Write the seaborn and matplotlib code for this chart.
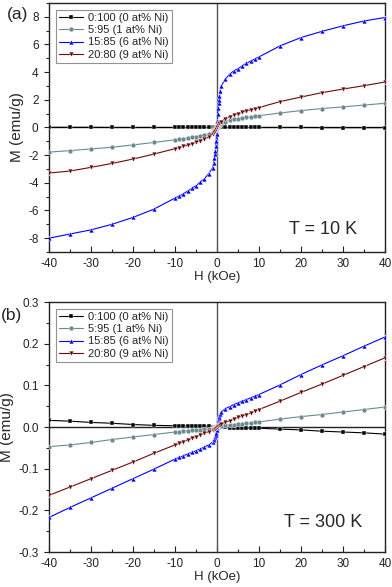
import numpy as np
import pandas as pd
import matplotlib
matplotlib.use("Agg")
import matplotlib.pyplot as plt
from matplotlib.ticker import MultipleLocator, FormatStrFormatter
import seaborn as sns

H = [-40, -35, -30, -25, -20, -15, -10, -9, -8, -7, -6, -5, -4, -3, -2, -1,
     -0.8, -0.6, -0.5, -0.4, -0.3, -0.2, -0.1, 0, 0.1, 0.2, 0.3, 0.4, 0.5, 0.6, 0.8,
     1, 2, 3, 4, 5, 6, 7, 8, 9, 10, 15, 20, 25, 30, 35, 40]

series = ["0:100 (0 at% Ni)", "5:95 (1 at% Ni)", "15:85 (6 at% Ni)", "20:80 (9 at% Ni)"]

# T = 10 K
m10_s0 = [0.01, 0.01, 0.01, 0.0, 0.0, 0.0, 0.0, 0.0, 0.0, 0.0, 0.0, 0.0, 0.0, 0.0, 0.0, 0.0,
          0.0, 0.0, 0.0, 0.0, 0.0, 0.0, 0.0, 0.0, 0.0, 0.0, 0.0, 0.0, 0.0, 0.0, 0.0,
          0.0, 0.0, 0.0, 0.0, 0.0, 0.0, 0.0, 0.0, 0.0, 0.0, 0.0, 0.0, -0.01, -0.01, -0.01, -0.01]
m10_s1 = [-1.78, -1.67, -1.55, -1.43, -1.26, -1.08, -0.89, -0.84, -0.80, -0.76, -0.71, -0.66, -0.60, -0.53, -0.44, -0.30,
          -0.25, -0.20, -0.17, -0.14, -0.11, -0.07, -0.04, 0.0, 0.04, 0.07, 0.10, 0.13, 0.16, 0.19, 0.24,
          0.29, 0.42, 0.51, 0.58, 0.64, 0.69, 0.73, 0.77, 0.81, 0.85, 1.05, 1.22, 1.37, 1.49, 1.62, 1.75]
m10_s2 = [-8.0, -7.7, -7.4, -7.0, -6.5, -5.9, -5.1, -4.95, -4.8, -4.6, -4.4, -4.2, -3.95, -3.7, -3.35, -2.9,
          -2.6, -2.2, -1.95, -1.7, -1.35, -0.95, -0.5, 0.0, 0.5, 1.0, 1.4, 1.75, 2.0, 2.25, 2.65,
          3.0, 3.5, 3.85, 4.1, 4.25, 4.45, 4.65, 4.8, 4.95, 5.1, 5.9, 6.5, 6.95, 7.35, 7.7, 7.95]
m10_s3 = [-3.29, -3.15, -2.88, -2.60, -2.28, -1.92, -1.53, -1.45, -1.36, -1.27, -1.17, -1.07, -0.96, -0.84, -0.68, -0.45,
          -0.38, -0.31, -0.27, -0.23, -0.18, -0.12, -0.06, 0.0, 0.06, 0.12, 0.17, 0.22, 0.26, 0.30, 0.37,
          0.43, 0.63, 0.78, 0.90, 1.00, 1.10, 1.19, 1.28, 1.36, 1.44, 1.87, 2.20, 2.52, 2.78, 3.02, 3.29]

# T = 300 K
m300_s0 = [0.016, 0.014, 0.011, 0.009, 0.006, 0.004, 0.003, 0.003, 0.003, 0.003, 0.003, 0.003, 0.002, 0.002, 0.002, 0.001,
           0.001, 0.001, 0.001, 0.0, 0.0, 0.0, 0.0, 0.0, 0.0, 0.0, 0.0, 0.0, 0.0, -0.001, -0.001,
           -0.001, -0.001, -0.002, -0.002, -0.002, -0.002, -0.003, -0.003, -0.003, -0.003, -0.005, -0.007, -0.010, -0.012, -0.014, -0.017]
m300_s1 = [-0.047, -0.043, -0.037, -0.030, -0.024, -0.018, -0.012, -0.011, -0.010, -0.009, -0.008, -0.007, -0.006, -0.005, -0.004, -0.003,
           -0.002, -0.002, -0.002, -0.001, -0.001, -0.001, 0.0, 0.0, 0.0, 0.001, 0.001, 0.001, 0.002, 0.002, 0.002,
           0.003, 0.004, 0.005, 0.006, 0.007, 0.008, 0.009, 0.010, 0.011, 0.012, 0.019, 0.025, 0.030, 0.036, 0.042, 0.048]
m300_s2 = [-0.217, -0.193, -0.170, -0.147, -0.124, -0.101, -0.077, -0.073, -0.069, -0.065, -0.061, -0.057, -0.053, -0.048, -0.043, -0.036,
           -0.032, -0.028, -0.025, -0.022, -0.019, -0.014, -0.008, 0.0, 0.008, 0.014, 0.019, 0.022, 0.025, 0.028, 0.032,
           0.036, 0.044, 0.049, 0.054, 0.058, 0.062, 0.066, 0.070, 0.074, 0.078, 0.101, 0.126, 0.149, 0.171, 0.194, 0.216]
m300_s3 = [-0.164, -0.144, -0.124, -0.104, -0.084, -0.063, -0.043, -0.039, -0.035, -0.031, -0.027, -0.023, -0.019, -0.015, -0.011, -0.007,
           -0.006, -0.005, -0.005, -0.004, -0.003, -0.002, -0.001, 0.0, 0.001, 0.002, 0.003, 0.004, 0.005, 0.005, 0.006,
           0.007, 0.011, 0.015, 0.019, 0.023, 0.027, 0.030, 0.034, 0.038, 0.042, 0.062, 0.083, 0.103, 0.124, 0.145, 0.166]

x_ticks = [-40, -30, -20, -10, 0, 10, 20, 30, 40]

colors = ["#000000", "#6A8A90", "#0000FF", "#6B0A0A"]
markers = ["s", "o", "^", "v"]

sns.set_style("ticks")
plt.rcParams["font.family"] = ["Liberation Sans", "DejaVu Sans"]
plt.rcParams["axes.unicode_minus"] = False

fig = plt.figure(figsize=(3.92, 5.87), dpi=100)
ax1 = fig.add_axes([0.125, 0.5707, 0.857, 0.4242])
ax2 = fig.add_axes([0.125, 0.0596, 0.857, 0.4259])


def make_df(values):
    rows = []
    for name, vals in zip(series, values):
        for h, m in zip(H, vals):
            rows.append({"H": h, "M": m, "sample": name})
    return pd.DataFrame(rows)


def draw(ax, values, ylim, ymajor, yminor, yfmt, tlabel, ty, plabel, px, py):
    df = make_df(values)
    ax.axhline(0, color="#222222", lw=1.0, zorder=1)
    ax.axvline(0, color="#555555", lw=1.0, zorder=1)
    sns.lineplot(data=df, x="H", y="M", hue="sample", style="sample",
                 hue_order=series, style_order=series,
                 palette=dict(zip(series, colors)),
                 markers=dict(zip(series, markers)), dashes=False,
                 estimator=None, sort=False, ax=ax, lw=0.8,
                 markersize=3.5, markeredgewidth=0.3, zorder=3)
    ax.set_xlim(-40, 40)
    ax.set_ylim(*ylim)
    ax.set_xticks(x_ticks)
    ax.xaxis.set_minor_locator(MultipleLocator(5))
    ax.yaxis.set_major_locator(MultipleLocator(ymajor))
    ax.yaxis.set_minor_locator(MultipleLocator(yminor))
    ax.yaxis.set_major_formatter(FormatStrFormatter(yfmt))
    ax.tick_params(axis="x", which="major", direction="in", length=4, width=0.8,
                   labelsize=8.5, colors="#222222", pad=4)
    ax.tick_params(axis="x", which="minor", direction="in", length=2.5, width=0.8)
    ax.tick_params(axis="y", which="major", direction="out", length=3.5, width=0.8,
                   labelsize=8.5, colors="#222222", pad=4)
    ax.tick_params(axis="y", which="minor", direction="out", length=2, width=0.8)
    for s in ax.spines.values():
        s.set_visible(True)
        s.set_linewidth(1.0)
        s.set_color("#222222")
    ax.set_xlabel("H (kOe)", fontsize=9.5, labelpad=1)
    ax.set_ylabel("M (emu/g)", fontsize=11, labelpad=3)
    leg = ax.legend(loc="upper left", fontsize=8, frameon=True, fancybox=False,
                    edgecolor="#777777", borderpad=0.3, labelspacing=0.2,
                    handlelength=2.2, handletextpad=0.4, borderaxespad=0.6)
    leg.get_frame().set_linewidth(0.8)
    ax.text(0.815, ty, tlabel, transform=ax.transAxes, fontsize=13, ha="center", va="center")
    ax.text(px, py, plabel, transform=ax.transAxes, fontsize=12.5, ha="center", va="center")


draw(ax1, [m10_s0, m10_s1, m10_s2, m10_s3], (-9, 9), 2, 1, "%d", "T = 10 K", 0.092,
     "(a)", -0.095, 0.952)
draw(ax2, [m300_s0, m300_s1, m300_s2, m300_s3], (-0.3, 0.3), 0.1, 0.05, "%.1f", "T = 300 K", 0.12,
     "(b)", -0.113, 0.945)

fig.savefig("out.png", dpi=100)
